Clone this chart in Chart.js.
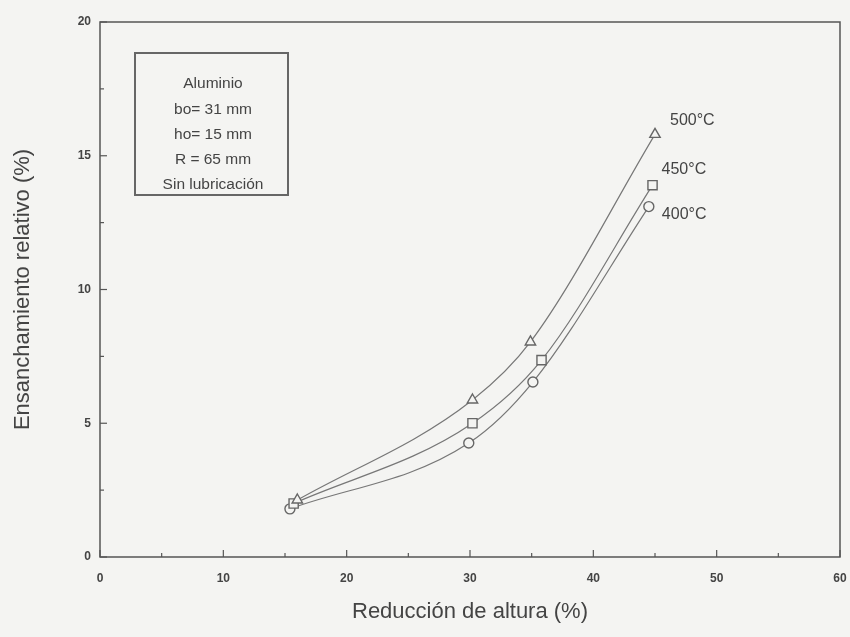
<!DOCTYPE html>
<html>
<head>
<meta charset="utf-8">
<script src="https://cdn.jsdelivr.net/npm/chart.js@4.4.0/dist/chart.umd.min.js"></script>
<style>
  html, body { margin: 0; padding: 0; background: #f4f4f2; }
  #wrap { width: 850px; height: 637px; }
</style>
</head>
<body>
<div id="wrap"><canvas id="grafico"></canvas></div>
<script>
// datos
const reduccion500 = [16.0, 30.2, 34.9, 45.0];
const ensanch500 = [2.13, 5.87, 8.04, 15.8];
const reduccion450 = [15.7, 30.2, 35.8, 44.8];
const ensanch450 = [2.0, 5.0, 7.36, 13.9];
const reduccion400 = [15.4, 29.9, 35.1, 44.5];
const ensanch400 = [1.8, 4.26, 6.54, 13.1];
const temperaturas = ['500°C', '450°C', '400°C'];
const xTicks = [0, 10, 20, 30, 40, 50, 60];
const yTicks = [0, 5, 10, 15, 20];
const cuadroTexto = ['Aluminio', 'bo= 31 mm', 'ho= 15 mm', 'R = 65 mm', 'Sin lubricación'];

const gris = '#555';
const txt = '#444';

function pares(xs, ys) {
  return xs.map((x, i) => ({x: x, y: ys[i]}));
}

function serie(xs, ys, estilo, etiqueta) {
  let radio = 5;
  if (estilo === 'triangle') radio = 6;
  if (estilo === 'rect') radio = 6.5;
  return {
    label: etiqueta,
    data: pares(xs, ys),
    showLine: true,
    cubicInterpolationMode: 'monotone',
    borderColor: '#777',
    borderWidth: 1.2,
    pointStyle: estilo,
    pointRadius: radio,
    pointBorderColor: '#666',
    pointBorderWidth: 1.4,
    pointBackgroundColor: '#f4f4f2'
  };
}

// marco, marcas interiores, etiquetas y cuadro de texto
const decoracion = {
  id: 'decoracion',
  afterDraw(chart) {
    const ctx = chart.ctx;
    const a = chart.chartArea;
    const sx = chart.scales.x, sy = chart.scales.y;
    ctx.save();
    ctx.strokeStyle = gris;
    ctx.lineWidth = 1.5;
    ctx.strokeRect(a.left, a.top, a.right - a.left, a.bottom - a.top);

    ctx.lineWidth = 1.2;
    for (let v = 0; v <= 60; v += 5) {
      const px = sx.getPixelForValue(v);
      const len = v % 10 === 0 ? 7 : 4;
      ctx.beginPath();
      ctx.moveTo(px, a.bottom); ctx.lineTo(px, a.bottom - len);
      ctx.stroke();
    }
    for (let v = 0; v <= 20; v += 2.5) {
      const py = sy.getPixelForValue(v);
      const len = v % 5 === 0 ? 7 : 4;
      ctx.beginPath();
      ctx.moveTo(a.left, py); ctx.lineTo(a.left + len, py);
      ctx.stroke();
    }

    // etiquetas de temperatura junto al ultimo punto
    ctx.fillStyle = txt;
    ctx.font = '16px "Liberation Sans", Arial, sans-serif';
    ctx.textBaseline = 'middle';
    const offs = [[15, -14], [9, -16], [13, 8]];
    chart.data.datasets.forEach((ds, i) => {
      const p = ds.data[ds.data.length - 1];
      ctx.fillText(temperaturas[i], sx.getPixelForValue(p.x) + offs[i][0], sy.getPixelForValue(p.y) + offs[i][1]);
    });

    // cuadro de texto
    ctx.lineWidth = 2;
    ctx.strokeStyle = '#666';
    ctx.strokeRect(135, 53, 153, 142);
    ctx.textAlign = 'center';
    ctx.font = '15.5px "Liberation Sans", Arial, sans-serif';
    cuadroTexto.forEach((t, i) => {
      ctx.fillText(t, 213, 84 + i * 25.3);
    });
    ctx.restore();
  }
};

new Chart(document.getElementById('grafico'), {
  type: 'scatter',
  plugins: [decoracion],
  data: {
    datasets: [
      serie(reduccion500, ensanch500, 'triangle', temperaturas[0]),
      serie(reduccion450, ensanch450, 'rect', temperaturas[1]),
      serie(reduccion400, ensanch400, 'circle', temperaturas[2])
    ]
  },
  options: {
    responsive: true,
    maintainAspectRatio: false,
    animation: false,
    layout: { padding: { top: 22, right: 10, left: 0, bottom: 0 } },
    plugins: {
      legend: { display: false },
      tooltip: { enabled: false }
    },
    scales: {
      x: {
        type: 'linear',
        min: 0, max: 60,
        afterBuildTicks: s => { s.ticks = xTicks.map(v => ({value: v})); },
        afterFit: s => { s.height = 80; s.paddingRight = 0; s.paddingLeft = 0; },
        grid: { display: false },
        border: { display: false },
        ticks: { color: txt, padding: 6, font: { size: 12, weight: 'bold', family: '"Liberation Sans", Arial' } },
        title: {
          display: true,
          text: 'Reducción de altura (%)',
          color: txt,
          font: { size: 22, family: '"Liberation Sans", Arial' },
          padding: { top: 0, bottom: 12 }
        }
      },
      y: {
        type: 'linear',
        min: 0, max: 20,
        afterBuildTicks: s => { s.ticks = yTicks.map(v => ({value: v})); },
        afterFit: s => { s.width = 100; s.paddingTop = 0; s.paddingBottom = 0; },
        grid: { display: false },
        border: { display: false },
        ticks: { color: txt, padding: 1, font: { size: 12, weight: 'bold', family: '"Liberation Sans", Arial' } },
        title: {
          display: true,
          text: 'Ensanchamiento relativo (%)',
          color: txt,
          font: { size: 22, family: '"Liberation Sans", Arial' },
          padding: { top: 10, bottom: 4 }
        }
      }
    }
  }
});
</script>
</body>
</html>
